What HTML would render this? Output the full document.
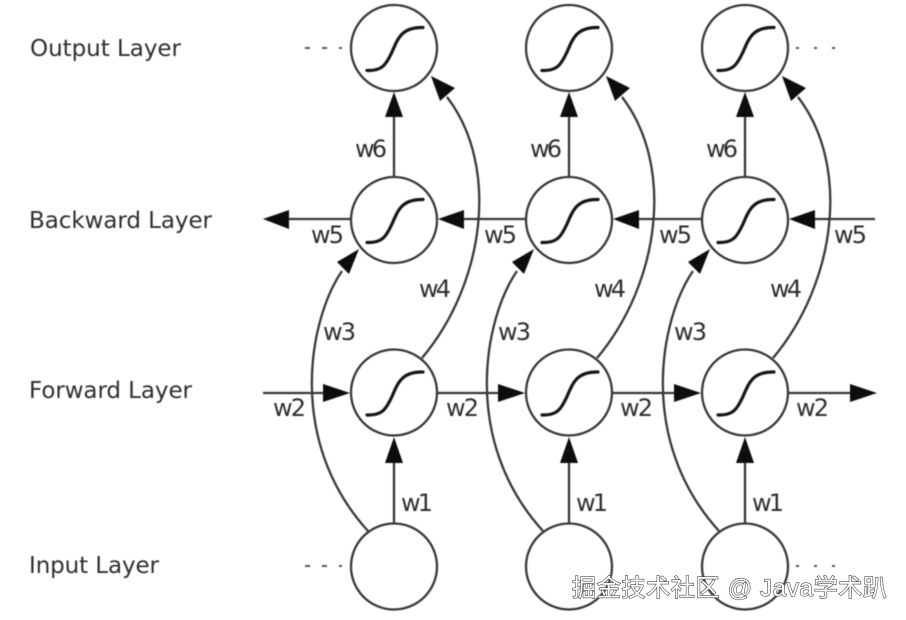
<!DOCTYPE html>
<html><head><meta charset="utf-8"><style>
html,body{margin:0;padding:0;background:#fff;width:906px;height:620px;overflow:hidden}
svg{display:block}
text{font-family:"DejaVu Sans","Liberation Sans",sans-serif;fill:#2e2e2e}
</style></head><body>
<svg width="906" height="620" viewBox="0 0 906 620" xmlns="http://www.w3.org/2000/svg">
<defs>
<filter id="b" x="-5%" y="-5%" width="110%" height="110%"><feGaussianBlur stdDeviation="0.65"/></filter>
<path id="s" d="M-27 22.5 C-12 23 -8 17 -2 4 C4 -10 8 -21 29 -20.5" fill="none" stroke="#161616" stroke-width="3.2" stroke-linecap="round"/>
<g id="col">
<g fill="none" stroke="#383838" stroke-width="2.3">
<circle cx="394" cy="48" r="43"/>
<circle cx="394" cy="220" r="43"/>
<circle cx="394" cy="392.5" r="43"/>
<circle cx="394" cy="566.5" r="43"/>
<path d="M394 177V112"/>
<path d="M394 523V458"/>
<path d="M422 358C485 283 500 166 447 97"/>
<path d="M368 531C286 441 309 319 342 271"/>
</g>
<use href="#s" x="394" y="48"/><use href="#s" x="394" y="220"/><use href="#s" x="394" y="392.5"/>
<g fill="#0c0c0c">
<path d="M394 92L403 117H385Z"/>
<path d="M394 437L403 463H385Z"/>
<path d="M431 76L455 88L440 101Z"/>
<path d="M359 249L349 274L337 262Z"/>
</g>
<text x="355" y="157" font-size="24" textLength="32">w6</text>
<text x="419" y="297" font-size="24" textLength="32">w4</text>
<text x="323" y="340" font-size="24" textLength="33">w3</text>
<text x="401" y="511" font-size="24" textLength="32">w1</text>
</g>
</defs>
<g filter="url(#b)">
<use href="#col"/>
<use href="#col" x="175"/>
<use href="#col" x="351"/>
<g stroke="#383838" stroke-width="2.3" fill="none">
<path d="M351 219H285M526 219H460M702 219H635M875 219H810"/>
<path d="M263 393H325M437 393H500M613 393H676M788 393H852"/>
</g>
<g stroke="#555" stroke-width="2" fill="none">
<path d="M305 48H342M305 566H342" stroke-dasharray="5 12"/>
<path d="M796 48H836M796 566H836" stroke-dasharray="3 15"/>
</g>
<g fill="#0c0c0c">
<path d="M263 219L289 210V229Z"/>
<path d="M438 219L464 210V229Z"/>
<path d="M613 219L639 210V229Z"/>
<path d="M789 219L815 210V229Z"/>
<path d="M350 393L323 384V402Z"/>
<path d="M525 393L498 384V402Z"/>
<path d="M701 393L674 384V402Z"/>
<path d="M877 393L850 384V402Z"/>
</g>
<g font-size="24">
<text x="311" y="243" textLength="33">w5</text>
<text x="484" y="243" textLength="33">w5</text>
<text x="659" y="243" textLength="33">w5</text>
<text x="834" y="243" textLength="33">w5</text>
<text x="273" y="416" textLength="33">w2</text>
<text x="446" y="416" textLength="33">w2</text>
<text x="620" y="416" textLength="33">w2</text>
<text x="796" y="416" textLength="33">w2</text>
</g>
<g font-size="23">
<text x="30" y="56" textLength="151">Output Layer</text>
<text x="29" y="228" textLength="183">Backward Layer</text>
<text x="29" y="398" textLength="163">Forward Layer</text>
<text x="29" y="573" textLength="130">Input Layer</text>
</g>
</g>
<text x="572" y="596" font-size="24" textLength="315" style="font-family:'Liberation Sans','Noto Sans CJK SC',sans-serif;fill:#fff;stroke:#4a4a4a;stroke-width:1.2;paint-order:stroke">掘金技术社区 @ Java学术趴</text>
</svg>
</body></html>
